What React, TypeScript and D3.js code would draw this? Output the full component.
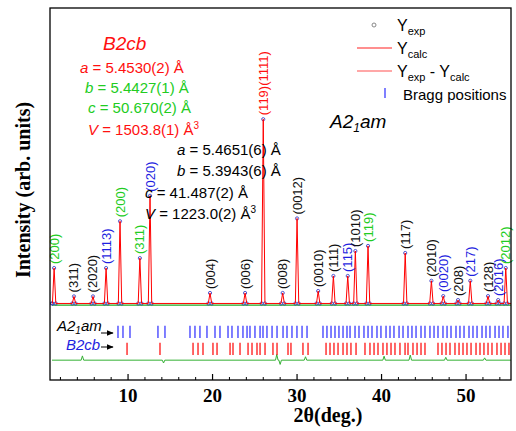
import React from 'react';
import * as d3 from 'd3';

const W = 516;
const H = 431;

// x axis ticks (2θ, degrees)
const xTicks = [10, 20, 30, 40, 50];

// reflections: 2θ, peak height (arb.), hkl, phase
const peakDeg = [1.25, 3.6, 5.85, 7.4, 9.05, 11.4, 12.6, 19.7, 23.85, 26.0, 28.3, 30.0, 32.5, 34.3, 36.0, 36.9, 38.4, 42.8, 45.9, 47.3, 49.05, 50.5, 52.6, 53.8, 54.7];
const peakInt = [12.5, 2.5, 2.5, 12.5, 29, 16, 38, 3.7, 3.7, 65, 3.7, 30, 4.4, 9.7, 9.7, 18.5, 20.3, 17.8, 8, 2.6, 1.2, 8, 2.6, 1.2, 12.5];
const peakHkl = ['(200)', '(311)', '(2020)', '(1113)', '(200)', '(311)', '(020)', '(004)', '(006)', '(119)(1111)', '(008)', '(0012)', '(0010)', '(111)', '(115)', '(1010)', '(119)', '(117)', '(2010)', '(0020)', '(208)', '(217)', '(128)', '(2016)', '(2012)'];
const peakPhase = ['G', 'AB', 'AB', 'A', 'G', 'G', 'A', 'AB', 'AB', 'B', 'AB', 'AB', 'AB', 'AB', 'A', 'AB', 'G', 'AB', 'AB', 'A', 'AB', 'A', 'AB', 'A', 'G'];

// difference curve spikes
const diffDeg = [4.6, 14.2, 27.6, 28.0, 31.0, 40.3, 43.4, 47.6, 52.2];
const diffVal = [1.5, -1.0, 2.0, -1.5, 1.2, 1.4, 1.8, 1.0, 0.8];

// Bragg positions, A2_1am (upper row) and B2cb (lower row)
const braggA = [8.81, 9.40, 10.23, 13.54, 14.37, 17.33, 17.92, 18.51, 19.34, 20.29, 20.88, 21.83, 22.30, 23.01, 23.60, 24.08, 24.43, 25.02, 25.62, 25.97, 26.44, 27.04, 27.63, 28.34, 28.81, 29.40, 29.99, 30.59, 31.18, 33.07, 33.54, 34.02, 34.49, 34.96, 35.44, 35.91, 36.27, 36.86, 37.33, 37.92, 38.40, 38.87, 39.46, 39.93, 40.53, 41.00, 41.47, 42.07, 42.54, 43.13, 43.60, 44.08, 44.67, 45.14, 45.73, 46.21, 46.68, 47.27, 47.75, 48.22, 48.81, 49.28, 49.76, 50.35, 50.82, 51.30, 51.89, 52.36, 52.83, 53.43, 53.90, 54.37, 54.96, 55.44];
const braggB = [9.88, 13.78, 17.69, 18.28, 18.87, 20.05, 20.53, 22.07, 22.42, 23.25, 24.20, 24.67, 25.26, 25.62, 26.21, 27.15, 27.63, 28.93, 29.28, 30.70, 31.30, 33.43, 33.90, 34.37, 34.85, 35.44, 35.91, 36.38, 36.98, 38.04, 38.63, 39.11, 39.58, 40.17, 40.64, 41.12, 41.59, 42.18, 42.78, 43.13, 43.72, 44.20, 44.67, 45.14, 46.68, 47.15, 47.63, 48.10, 48.69, 49.17, 49.64, 50.11, 50.59, 51.18, 51.65, 52.12, 52.60, 53.07, 53.66, 54.14, 54.61, 55.08, 55.56];

const phaseColor: Record<string, string> = { A: '#1f1fe0', B: '#ff1010', AB: '#111', G: '#22cc22' };

const sans = '"Liberation Sans", Arial, sans-serif';
const serif = '"Liberation Serif", "Times New Roman", serif';

export default function App() {
  const left = 50, right = 511, top = 8, bottom = 380;
  const x = d3.scaleLinear().domain([1, 56]).range([52, 516.75]);
  const y = d3.scaleLinear().domain([-27, 100]).range([bottom, top + 12]);

  // calculated profile: narrow peaks on a flat background
  const pts: [number, number][] = [[1, 0]];
  peakDeg.forEach((p, i) => {
    pts.push([p - 0.2, 0], [p, peakInt[i]], [p + 0.2, 0]);
  });
  pts.push([56, 0]);
  pts.sort((a, b) => a[0] - b[0]);

  const line = d3.line<[number, number]>().x(d => x(d[0])).y(d => y(d[1]));

  const dpts: [number, number][] = [[1, 0]];
  diffDeg.forEach((p, i) => dpts.push([p - 0.15, 0], [p, diffVal[i]], [p + 0.15, 0]));
  dpts.push([56, 0]);
  const diffLine = d3.line<[number, number]>().x(d => x(d[0])).y(d => y(d[1] - 20));

  const minor = d3.range(2, 56, 2).filter(t => t % 10 !== 0);

  return (
    <svg width={W} height={H} style={{ position: 'absolute', left: 0, top: 0, background: '#fff' }}>
      <defs>
        <clipPath id="plot">
          <rect x={left} y={top} width={right - left} height={bottom - top} />
        </clipPath>
        <marker id="arr" viewBox="0 0 10 10" refX="9" refY="5" markerWidth="7" markerHeight="7" orient="auto">
          <path d="M0,1 L10,5 L0,9 z" fill="#000" />
        </marker>
      </defs>

      <g clipPath="url(#plot)">
        {/* background */}
        <path d={line([[1, -0.6], [56, -0.6]]) || ''} stroke="#22aa22" strokeWidth={1.2} fill="none" />
        {/* Yexp */}
        {pts.map((d, i) => (
          <circle key={'e' + i} cx={x(d[0])} cy={y(d[1])} r={1.6} fill="none" stroke="#3030c0" strokeWidth={0.8} />
        ))}
        {/* Ycalc */}
        <path d={line(pts) || ''} stroke="#ff0000" strokeWidth={1} fill="none" />
        {/* difference */}
        <path d={diffLine(dpts) || ''} stroke="#33b033" strokeWidth={1} fill="none" />
        {/* Bragg ticks */}
        {braggA.map((b, i) => (
          <line key={'a' + i} x1={x(b)} x2={x(b)} y1={y(-7.9)} y2={y(-12.2)} stroke="#2a2aff" strokeWidth={1.2} />
        ))}
        {braggB.map((b, i) => (
          <line key={'b' + i} x1={x(b)} x2={x(b)} y1={y(-13.9)} y2={y(-18.2)} stroke="#ff0000" strokeWidth={1.2} />
        ))}
      </g>

      {/* hkl labels */}
      {peakDeg.map((p, i) => {
        const px = x(p) + 4.5;
        const py = y(peakInt[i]) - 4;
        return (
          <text key={'h' + i} transform={`translate(${px},${py}) rotate(-90)`} fontFamily={sans} fontSize={13}
            fill={phaseColor[peakPhase[i]]}>{peakHkl[i]}</text>
        );
      })}

      {/* frame */}
      <rect x={left} y={top} width={right - left} height={bottom - top} fill="none" stroke="#000" strokeWidth={1.3} />

      {/* x axis ticks */}
      {xTicks.map(t => (
        <g key={'t' + t}>
          <line x1={x(t)} x2={x(t)} y1={bottom} y2={bottom - 6} stroke="#000" strokeWidth={1.2} />
          <text x={x(t)} y={402} textAnchor="middle" fontFamily={serif} fontWeight="bold" fontSize={19}>{t}</text>
        </g>
      ))}
      {minor.map(t => (
        <line key={'m' + t} x1={x(t)} x2={x(t)} y1={bottom} y2={bottom - 3} stroke="#000" strokeWidth={1} />
      ))}
      <text x={328} y={422} textAnchor="middle" fontFamily={serif} fontWeight="bold" fontSize={20}>2θ(deg.)</text>
      <text transform={`translate(30,${190}) rotate(-90)`} textAnchor="middle" fontFamily={serif} fontWeight="bold" fontSize={20}>
        Intensity (arb. units)
      </text>

      {/* phase markers for Bragg rows */}
      <text x={57} y={331} fontFamily={sans} fontStyle="italic" fontSize={15}>A2<tspan fontSize={10} dy={3}>1</tspan><tspan dy={-3}>am</tspan></text>
      <line x1={101} x2={113} y1={333} y2={333} stroke="#000" strokeWidth={1} markerEnd="url(#arr)" />
      <text x={66} y={350} fontFamily={sans} fontStyle="italic" fontSize={15} fill="#1f1fe0">B2cb</text>
      <line x1={101} x2={113} y1={347} y2={347} stroke="#000" strokeWidth={1} markerEnd="url(#arr)" />

      {/* legend */}
      <circle cx={374} cy={25} r={2} fill="none" stroke="#888" />
      <text x={397} y={31} fontFamily={sans} fontSize={16}>Y<tspan fontSize={11} dy={4}>exp</tspan></text>
      <line x1={357} x2={392} y1={48} y2={48} stroke="#ff2020" strokeWidth={1.2} />
      <text x={397} y={54} fontFamily={sans} fontSize={16}>Y<tspan fontSize={11} dy={4}>calc</tspan></text>
      <line x1={357} x2={392} y1={71} y2={71} stroke="#ff5050" strokeWidth={1.2} />
      <text x={397} y={77} fontFamily={sans} fontSize={16}>Y<tspan fontSize={11} dy={4}>exp</tspan><tspan dy={-4}> - Y</tspan><tspan fontSize={11} dy={4}>calc</tspan></text>
      <line x1={385} x2={385} y1={88} y2={98} stroke="#2a2aff" strokeWidth={1.2} />
      <text x={403} y={100} fontFamily={sans} fontSize={15}>Bragg positions</text>

      {/* B2cb cell */}
      <text x={103} y={50} fontFamily={sans} fontStyle="italic" fontSize={19} fill="#ff1010">B2cb</text>
      <text x={80} y={73} fontFamily={sans} fontSize={15} fill="#ff1010"><tspan fontStyle="italic">a</tspan> = 5.4530(2) Å</text>
      <text x={85} y={93} fontFamily={sans} fontSize={15} fill="#22cc22"><tspan fontStyle="italic">b</tspan> = 5.4427(1) Å</text>
      <text x={88} y={113} fontFamily={sans} fontSize={15} fill="#22cc22"><tspan fontStyle="italic">c</tspan> = 50.670(2) Å</text>
      <text x={88} y={135} fontFamily={sans} fontSize={15} fill="#ff1010"><tspan fontStyle="italic">V</tspan> = 1503.8(1) Å<tspan fontSize={10} dy={-6}>3</tspan></text>

      {/* A2_1am cell */}
      <text x={330} y={128} fontFamily={sans} fontStyle="italic" fontSize={19}>A2<tspan fontSize={12} dy={4}>1</tspan><tspan dy={-4}>am</tspan></text>
      <text x={177} y={155} fontFamily={sans} fontSize={15}><tspan fontStyle="italic">a</tspan> = 5.4651(6) Å</text>
      <text x={177} y={176} fontFamily={sans} fontSize={15}><tspan fontStyle="italic">b</tspan> = 5.3943(6) Å</text>
      <text x={145} y={198} fontFamily={sans} fontSize={15}><tspan fontStyle="italic">c</tspan> = 41.487(2) Å</text>
      <text x={145} y={219} fontFamily={sans} fontSize={15}><tspan fontStyle="italic">V</tspan> = 1223.0(2) Å<tspan fontSize={10} dy={-6}>3</tspan></text>
    </svg>
  );
}
